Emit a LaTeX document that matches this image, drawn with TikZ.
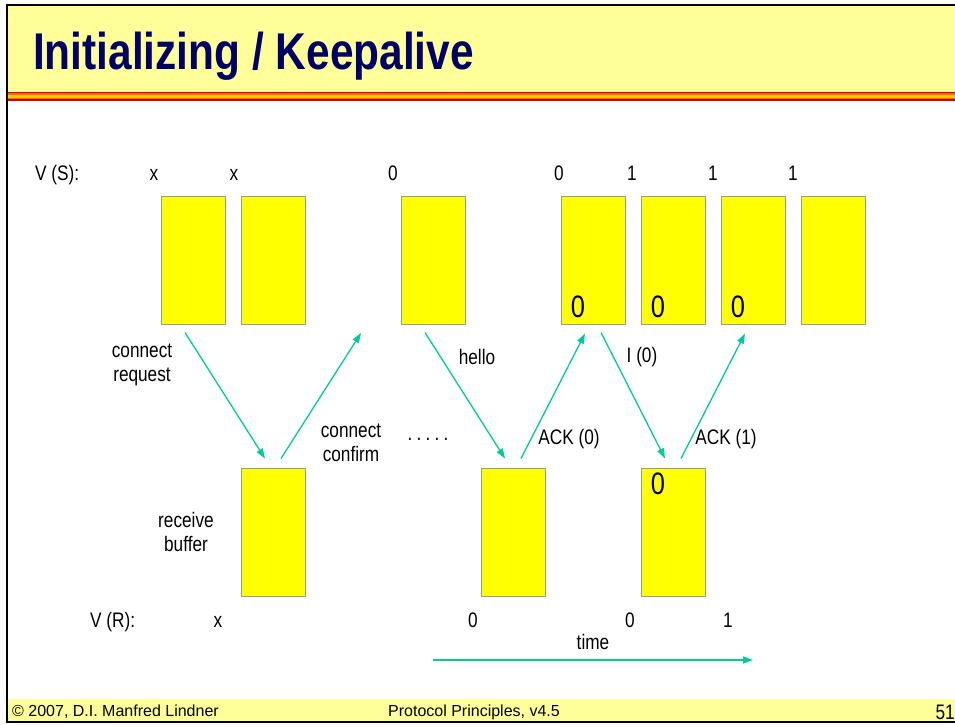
\documentclass[tikz,border=0pt]{standalone}
\usepackage{fontspec}
\setmainfont{Liberation Sans}
\newfontfamily\narrow[FakeStretch=0.82]{Liberation Sans}
\usetikzlibrary{arrows.meta,calc}
\definecolor{titlebg}{HTML}{FFFF99}
\definecolor{navy}{HTML}{000066}
\definecolor{teal}{HTML}{00CC99}
\definecolor{stred}{HTML}{CC0000}
\definecolor{storange}{HTML}{FF6600}
\definecolor{stgold}{HTML}{FFCC00}
\definecolor{boxyellow}{HTML}{FFFF00}
\begin{document}
\begin{tikzpicture}[x=1pt,y=-1pt,
  buf/.style={draw=black!40, fill=boxyellow, line width=1pt, minimum width=64pt, minimum height=128pt, inner sep=0pt},
  lbl/.style={font=\narrow\fontsize{21}{24}\selectfont, inner sep=0pt, align=center},
  rowlbl/.style={lbl, anchor=base},
  bigzero/.style={font=\narrow\fontsize{31}{34}\selectfont, inner sep=0pt},
  arr/.style={draw=teal, line width=1.3pt, -{Triangle[length=10pt,width=7pt]}},
  foot/.style={font=\fontsize{16}{18}\selectfont, inner sep=0pt, anchor=base west}]
\useasboundingbox (0,0) rectangle (955,724);
% background bands
\fill[titlebg] (7,5) rectangle (955,92);
\fill[stred] (7,91.5) rectangle (955,100.5);
\fill[storange] (7,93) rectangle (955,99);
\fill[stgold] (7,94.5) rectangle (955,97.5);
\fill[titlebg] (7,699) rectangle (955,721);
\draw[black, line width=2.5pt] (955,5) -- (7,5) -- (7,722) -- (955,722);
% title
\node[anchor=base west, inner sep=0pt, text=navy, font=\narrow\bfseries\fontsize{51.7}{56}\selectfont] (title) at (33,69) {Initializing / Keepalive};
% footer
\node[foot] (f1) at (12,716) {© 2007, D.I. Manfred Lindner};
\node[foot] (f2) at (388,716) {Protocol Principles, v4.5};
\node[inner sep=0pt, anchor=base east, font=\narrow\fontsize{21}{23}\selectfont] (f3) at (955,719) {51};
% sender buffers
\node[buf] (s1) at (193,260) {};
\node[buf] (s2) at (273,260) {};
\node[buf] (s3) at (433,260) {};
\node[buf] (s4) at (593,260) {};
\node[buf] (s5) at (673,260) {};
\node[buf] (s6) at (753,260) {};
\node[buf] (s7) at (833,260) {};
% receiver buffers
\node[buf] (r1) at (273,532) {};
\node[buf] (r2) at (513,532) {};
\node[buf] (r3) at (673,532) {};
% zeros in buffers
\node[bigzero] (z4) at (578,306.5) {0};
\node[bigzero] (z5) at (658,306.5) {0};
\node[bigzero] (z6) at (738,306.5) {0};
\node[bigzero] (zr3) at (658,484) {0};
% V(S) row
\node[rowlbl, anchor=base west] (vs) at (35,180.5) {V (S):};
\node[rowlbl] (vs1) at (154,180.5) {x};
\node[rowlbl] (vs2) at (234,180.5) {x};
\node[rowlbl] (vs3) at (393,180.5) {0};
\node[rowlbl] (vs4) at (559,180.5) {0};
\node[rowlbl] (vs5) at (632,180.5) {1};
\node[rowlbl] (vs6) at (713,180.5) {1};
\node[rowlbl] (vs7) at (793,180.5) {1};
% V(R) row
\node[rowlbl, anchor=base west] (vr) at (90,627.5) {V (R):};
\node[rowlbl] (vr1) at (218,627.5) {x};
\node[rowlbl] (vr2) at (473,627.5) {0};
\node[rowlbl] (vr3) at (630,627.5) {0};
\node[rowlbl] (vr4) at (728,627.5) {1};
% labels
\node[lbl] (lreq) at (142,365) {connect\\request};
\node[lbl] (lconf) at (351,443) {connect\\confirm};
\node[lbl, anchor=base] (dots) at (428,440) {.\hspace{4.2pt}.\hspace{4.2pt}.\hspace{4.2pt}.\hspace{4.2pt}.};
\node[lbl] (lhello) at (477,357) {hello};
\node[lbl] (lack0) at (569,439) {ACK (0)};
\node[lbl] (li0) at (642,357) {I (0)};
\node[lbl] (lack1) at (726,439) {ACK (1)};
\node[lbl] (lrecv) at (186,532) {receive\\buffer};
\node[lbl] (ltime) at (593,641.5) {time};
% arrow end points
\coordinate (a1s) at ($(s1.south)+(-8,8)$);
\coordinate (a1e) at ($(r1.north)+(-8,-9)$);
\coordinate (a2s) at ($(r1.north)+(8,-9)$);
\coordinate (a2e) at (361,333);
\coordinate (a3s) at ($(s3.south)+(-8,8)$);
\coordinate (a3e) at ($(r2.north)+(-8,-9)$);
\coordinate (a4s) at ($(r2.north)+(8,-9)$);
\coordinate (a4e) at ($(s4.south)+(-8,9)$);
\coordinate (a5s) at ($(s4.south)+(8,8)$);
\coordinate (a5e) at ($(r3.north)+(-8,-9)$);
\coordinate (a6s) at ($(r3.north)+(8,-9)$);
\coordinate (a6e) at ($(s6.south)+(-8,9)$);
\coordinate (ts) at (433,660);
\coordinate (te) at (753,660);
\draw[arr] (a1s) -- (a1e);
\draw[arr] (a2s) -- (a2e);
\draw[arr] (a3s) -- (a3e);
\draw[arr] (a4s) -- (a4e);
\draw[arr] (a5s) -- (a5e);
\draw[arr] (a6s) -- (a6e);
\draw[arr] (ts) -- (te);
\end{tikzpicture}
\end{document}
